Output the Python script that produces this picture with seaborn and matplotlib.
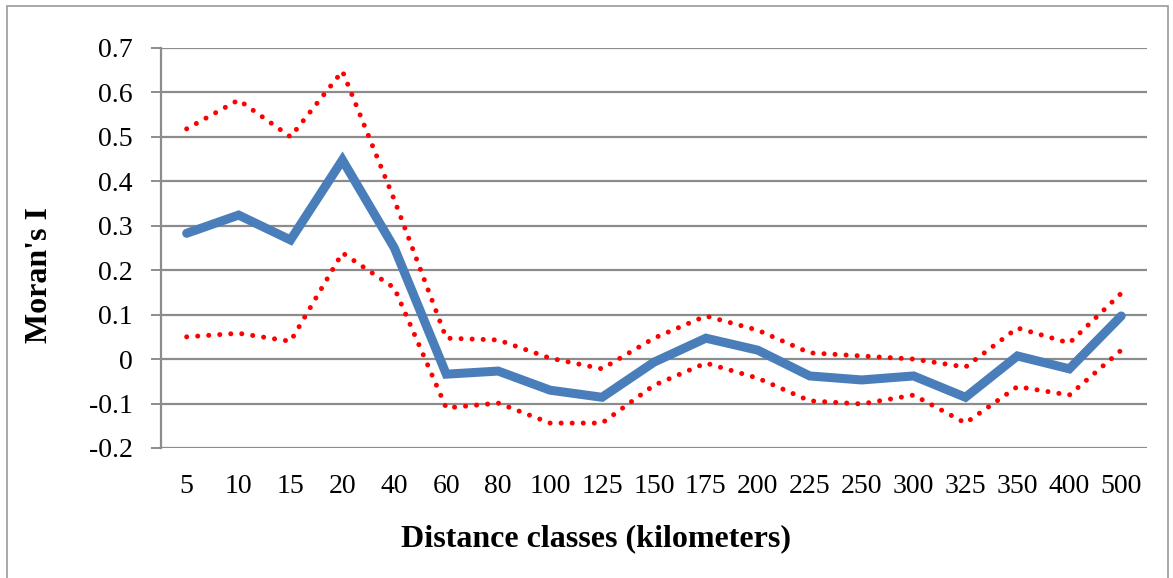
import matplotlib
matplotlib.use("Agg")
import matplotlib.pyplot as plt
import pandas as pd
import seaborn as sns
from matplotlib.patches import Rectangle

# ============================================================
# DATA
# ============================================================

distance = ["5", "10", "15", "20", "40", "60", "80", "100", "125", "150",
            "175", "200", "225", "250", "300", "325", "350", "400", "500"]

morans_i = [0.283, 0.324, 0.268, 0.448, 0.250, -0.034, -0.027, -0.070, -0.086, -0.007,
            0.047, 0.020, -0.038, -0.047, -0.038, -0.086, 0.007, -0.022, 0.097]

upper_ci = [0.518, 0.583, 0.500, 0.648, 0.358, 0.047, 0.043, 0.002, -0.022, 0.047,
            0.097, 0.065, 0.014, 0.007, 0.000, -0.018, 0.070, 0.036, 0.148]

lower_ci = [0.050, 0.058, 0.040, 0.239, 0.160, -0.110, -0.099, -0.144, -0.144, -0.059,
            -0.009, -0.043, -0.094, -0.101, -0.081, -0.144, -0.062, -0.081, 0.020]

y_ticks = [-0.2, -0.1, 0, 0.1, 0.2, 0.3, 0.4, 0.5, 0.6, 0.7]

df = pd.DataFrame({"distance": distance, "I": morans_i,
                   "upper": upper_ci, "lower": lower_ci})

# ============================================================
# PLOT
# ============================================================

sns.set_style("white")
plt.rcParams["font.family"] = ["Liberation Serif", "DejaVu Serif"]
plt.rcParams["text.color"] = "black"
plt.rcParams["axes.labelcolor"] = "black"
plt.rcParams["xtick.color"] = "black"
plt.rcParams["ytick.color"] = "black"

fig = plt.figure(figsize=(11.73, 5.78), dpi=100)
ax = fig.add_axes([0.137, 0.225, 0.841, 0.692])

grid_col = "#8c8c8c"
for t in y_ticks:
    ax.axhline(t, color=grid_col, lw=1.6, zorder=0)

# confidence envelope (red dotted) and Moran's I (blue)
dot_style = dict(color="#ff0000", lw=3.6, dashes=(0.01, 2.2),
                 dash_capstyle="round", zorder=2)
sns.lineplot(data=df, x="distance", y="upper", ax=ax, sort=False, **dot_style)
sns.lineplot(data=df, x="distance", y="lower", ax=ax, sort=False, **dot_style)
sns.lineplot(data=df, x="distance", y="I", ax=ax, sort=False,
             color="#4a7ebb", lw=6.5, solid_capstyle="round",
             solid_joinstyle="miter", zorder=3)

ax.set_xlim(-0.5, len(distance) - 0.5)
ax.set_ylim(-0.2, 0.7)
ax.set_yticks(y_ticks)
ax.set_yticklabels([f"{t:g}" for t in y_ticks])

for s in ["top", "right", "bottom"]:
    ax.spines[s].set_visible(False)
ax.spines["left"].set_color(grid_col)
ax.spines["left"].set_linewidth(1.6)

ax.tick_params(axis="y", which="major", left=True, length=7, width=1.4,
               color=grid_col, labelcolor="black", labelsize=20, pad=13)
ax.tick_params(axis="x", bottom=False, labelcolor="black", labelsize=20, pad=15)

ax.set_xlabel("Distance classes (kilometers)", fontsize=23, fontweight="bold")
ax.set_ylabel("Moran's I", fontsize=23, fontweight="bold")
ax.xaxis.set_label_coords(0.441, -0.19)
ax.yaxis.set_label_coords(-0.108, 0.4325)

# light frame round the whole chart
fig.patches.append(Rectangle((0.006, -0.01), 0.99, 1.0, transform=fig.transFigure,
                             fill=False, edgecolor="#9a9a9a", lw=1.2))

plt.savefig("out.png", dpi=100)
